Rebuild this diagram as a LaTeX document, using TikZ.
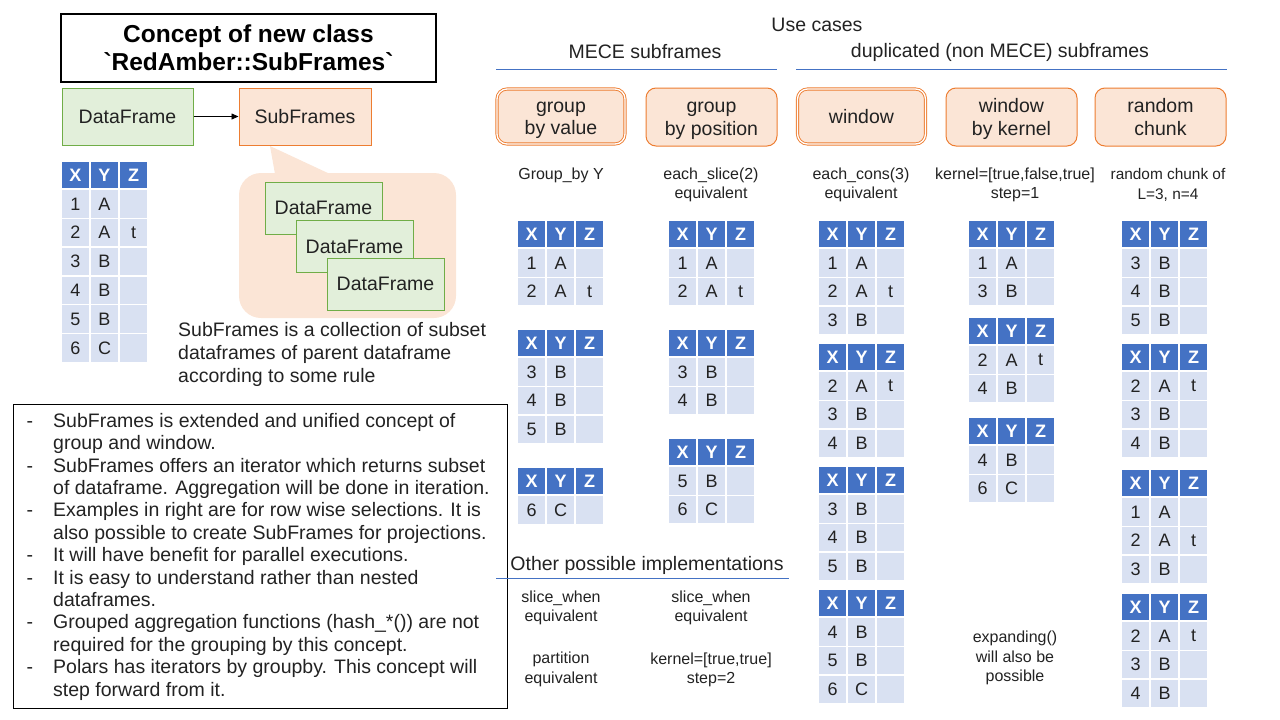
\documentclass[tikz,border=0pt]{standalone}
\usepackage{fontspec}
\setmainfont{Liberation Sans}[Ligatures=TeXOff]
\usetikzlibrary{arrows.meta}
\definecolor{hdr}{HTML}{4472C4}
\definecolor{rowc}{HTML}{D9E1F2}
\definecolor{orr}{HTML}{ED7D31}
\definecolor{orf}{HTML}{FBE5D6}
\definecolor{grr}{HTML}{70AD47}
\definecolor{grf}{HTML}{E2EFDA}
\definecolor{txt}{HTML}{222222}
\definecolor{lineblue}{HTML}{4472C4}

\newcommand\xyztable[4]{%
  \foreach \vh [count=\k] in {X,Y,Z}{
    \node[hcell] (#1-h\k) at ({#2+14.5+(\k-1)*29},{#3+14}) {\vh};
  }
  \foreach \va/\vb/\vc [count=\r] in {#4}{
    \node[rcell] (#1-\r-1) at ({#2+14.5},{#3+28.5+(\r-0.5)*28.8}) {\va};
    \node[rcell] (#1-\r-2) at ({#2+43.5},{#3+28.5+(\r-0.5)*28.8}) {\vb};
    \node[rcell] (#1-\r-3) at ({#2+72.5},{#3+28.5+(\r-0.5)*28.8}) {\vc};
  }%
}

\begin{document}
\begin{tikzpicture}[x=1pt,y=-1pt,
  every node/.style={text=txt},
  hcell/.style={rectangle, fill=hdr, draw=white, line width=1.5pt, minimum width=29pt, minimum height=28pt, inner sep=0pt, text=white, font=\fontsize{18}{18}\selectfont\bfseries},
  rcell/.style={rectangle, fill=rowc, draw=white, line width=1.5pt, minimum width=29pt, minimum height=28.8pt, inner sep=0pt, font=\fontsize{18}{18}\selectfont},
  bigtxt/.style={font=\fontsize{19.5}{22.5}\selectfont, align=center, inner sep=0pt},
  smalltxt/.style={font=\fontsize{16}{19.5}\selectfont, align=center, inner sep=0pt},
  ucbox/.style={rectangle, rounded corners=10pt, draw=orr, fill=orf, line width=1pt, minimum width=131pt, minimum height=58pt, align=center, inner sep=0pt, font=\fontsize{19.5}{22.5}\selectfont},
  ucdouble/.style={ucbox, minimum width=128pt, minimum height=55pt, line width=0.9pt, double=white, double distance=1.3pt},
  dfbox/.style={rectangle, draw=grr, fill=grf, line width=1pt, inner sep=0pt, font=\fontsize{19.5}{22.5}\selectfont},
  sfbox/.style={rectangle, draw=orr, fill=orf, line width=1pt, inner sep=0pt, font=\fontsize{19.5}{22.5}\selectfont},
  uline/.style={draw=lineblue, line width=1pt}
]
\useasboundingbox (0,0) rectangle (1280,720);

% ---------- title ----------
\node[draw=black, line width=1.3pt, minimum width=375pt, minimum height=68pt, inner sep=0pt,
      align=center, font=\fontsize{24.5}{28}\selectfont\bfseries, text=black] (title) at (248.5,48)
      {Concept of new class\\`RedAmber::SubFrames`};

% ---------- DataFrame -> SubFrames ----------
\node[dfbox, minimum width=131pt, minimum height=57pt] (df) at (127.5,116.5) {DataFrame};
\node[sfbox, minimum width=132pt, minimum height=57pt] (sf) at (305,116.5) {SubFrames};
\draw[-{Triangle[length=7pt,width=6pt]}, line width=0.8pt, black] (df) -- (sf);

% ---------- callout ----------
\fill[orf, rounded corners=22pt] (239,173) rectangle (456,318);
\fill[orf] (270,146) -- (275,174) -- (330,174) -- cycle;
\node[dfbox, minimum width=117pt, minimum height=52pt] (sub1) at (323.5,208) {DataFrame};
\node[dfbox, minimum width=117pt, minimum height=52pt] (sub2) at (354.5,246.5) {DataFrame};
\node[dfbox, minimum width=117pt, minimum height=52pt] (sub3) at (385.5,284) {DataFrame};
\node[anchor=west, align=left, inner sep=0pt, font=\fontsize{19.5}{23}\selectfont] (coll) at (178,354)
  {SubFrames is a collection of subset\\dataframes of parent dataframe\\according to some rule};

% ---------- main table ----------
\xyztable{main}{61}{161}{1/A/{},2/A/t,3/B/{},4/B/{},5/B/{},6/C/{}}

% ---------- bullets ----------
\node[draw=black, line width=1pt, minimum width=494pt, minimum height=304pt, anchor=north west, inner sep=0pt] (bulbox) at (13,404) {};
\node[anchor=north west, inner sep=0pt, align=left, font=\fontsize{19.5}{22.4}\selectfont] (bullets) at (53,413) {%
\llap{-\hspace*{20pt}}SubFrames is extended and unified concept of\\
group and window.\\
\llap{-\hspace*{20pt}}SubFrames offers an iterator which returns subset\\
of dataframe. Aggregation will be done in iteration.\\
\llap{-\hspace*{20pt}}Examples in right are for row wise selections. It is\\
also possible to create SubFrames for projections.\\
\llap{-\hspace*{20pt}}It will have benefit for parallel executions.\\
\llap{-\hspace*{20pt}}It is easy to understand rather than nested\\
dataframes.\\
\llap{-\hspace*{20pt}}Grouped aggregation functions (hash\_*()) are not\\
required for the grouping by this concept.\\
\llap{-\hspace*{20pt}}Polars has iterators by groupby. This concept will\\
step forward from it.};

% ---------- use cases headings ----------
\node[bigtxt] (usecases) at (817,25) {Use cases};
\node[bigtxt] (mece) at (645,52) {MECE subframes};
\node[bigtxt] (dup) at (1000,52) {duplicated (non MECE) subframes};
\coordinate (meceL) at (496,69);
\coordinate (meceR) at (777,69);
\coordinate (dupL) at (796,69);
\coordinate (dupR) at (1227,69);
\draw[uline] (meceL) -- (meceR);
\draw[uline] (dupL) -- (dupR);

% ---------- use case boxes ----------
\node[ucdouble] (gv) at (561,116.5) {};
\node[bigtxt] (gv-t) at ([yshift=-4pt]gv.center) {group\\by value};
\node[ucbox] (gp) at (711.5,117) {};
\node[bigtxt] (gp-t) at ([yshift=-4pt]gp.center) {group\\by position};
\node[ucdouble] (win) at (861.5,116.5) {window};
\node[ucbox] (wk) at (1011.5,117) {};
\node[bigtxt] (wk-t) at ([yshift=-2pt]wk.center) {window\\by kernel};
\node[ucbox] (rc) at (1160.5,117) {};
\node[bigtxt] (rc-t) at ([yshift=0pt]rc.center) {random\\chunk};

% ---------- descriptions ----------
\node[smalltxt] (dgv) at (561,175) {Group\_by Y};
\node[smalltxt] (dgp) at (711,185) {each\_slice(2)\\equivalent};
\node[smalltxt] (dwin) at (861,185) {each\_cons(3)\\equivalent};
\node[smalltxt] (dwk) at (1015,185) {kernel=[true,false,true]\\step=1};
\node[smalltxt, font=\fontsize{15.4}{19.5}\selectfont] (drc) at (1168,185) {random chunk of\\L=3, n=4};

% ---------- tables ----------
\xyztable{gva}{517}{220}{1/A/{},2/A/t}
\xyztable{gvb}{517}{329}{3/B/{},4/B/{},5/B/{}}
\xyztable{gvc}{517}{467}{6/C/{}}
\xyztable{gpa}{668}{220}{1/A/{},2/A/t}
\xyztable{gpb}{668}{329}{3/B/{},4/B/{}}
\xyztable{gpc}{668}{438}{5/B/{},6/C/{}}
\xyztable{wa}{818}{220}{1/A/{},2/A/t,3/B/{}}
\xyztable{wb}{818}{343}{2/A/t,3/B/{},4/B/{}}
\xyztable{wc}{818}{466}{3/B/{},4/B/{},5/B/{}}
\xyztable{wd}{818}{589}{4/B/{},5/B/{},6/C/{}}
\xyztable{ka}{968}{220}{1/A/{},3/B/{}}
\xyztable{kb}{968}{317}{2/A/t,4/B/{}}
\xyztable{kc}{968}{417}{4/B/{},6/C/{}}
\xyztable{ra}{1121}{220}{3/B/{},4/B/{},5/B/{}}
\xyztable{rb}{1121}{343}{2/A/t,3/B/{},4/B/{}}
\xyztable{rcc}{1121}{469}{1/A/{},2/A/t,3/B/{}}
\xyztable{rd}{1121}{593}{2/A/t,3/B/{},4/B/{}}

% ---------- other implementations ----------
\node[bigtxt] (other) at (647,565) {Other possible implementations};
\coordinate (otherL) at (496,578);
\coordinate (otherR) at (789,578);
\draw[uline] (otherL) -- (otherR);
\node[smalltxt] (o1) at (561,608) {slice\_when\\equivalent};
\node[smalltxt] (o2) at (711,608) {slice\_when\\equivalent};
\node[smalltxt] (o3) at (561,669.5) {partition\\equivalent};
\node[smalltxt] (o4) at (711,670) {kernel=[true,true]\\step=2};
\node[smalltxt] (o5) at (1015,658) {expanding()\\will also be\\possible};
\end{tikzpicture}
\end{document}
